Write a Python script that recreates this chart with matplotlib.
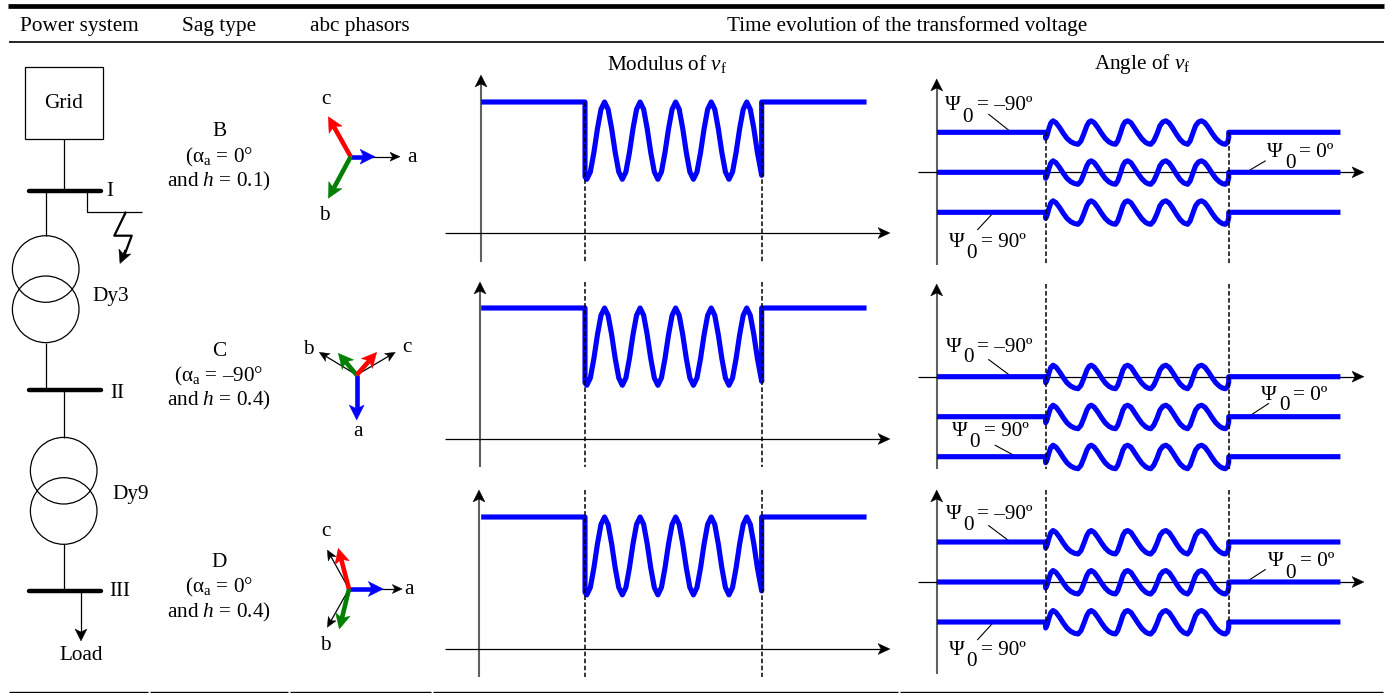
import matplotlib
matplotlib.use("Agg")
import matplotlib.pyplot as plt
from matplotlib.patches import Circle, Polygon, Rectangle

plt.rcParams['font.family'] = ['Liberation Serif', 'DejaVu Sans']
plt.rcParams['mathtext.fontset'] = 'custom'
plt.rcParams['mathtext.rm'] = 'Liberation Serif'
plt.rcParams['mathtext.it'] = 'Liberation Serif:italic'

# time is in sag cycles, the sag runs from t=0 to t=5
mod_t = [-2.92, 0.0, 0.0,
         0.05, 0.15, 0.25, 0.35, 0.45, 0.55, 0.65, 0.75, 0.85, 0.95,
         1.05, 1.15, 1.25, 1.35, 1.45, 1.55, 1.65, 1.75, 1.85, 1.95,
         2.05, 2.15, 2.25, 2.35, 2.45, 2.55, 2.65, 2.75, 2.85, 2.95,
         3.05, 3.15, 3.25, 3.35, 3.45, 3.55, 3.65, 3.75, 3.85, 3.95,
         4.05, 4.15, 4.25, 4.35, 4.45, 4.55, 4.65, 4.75, 4.85, 4.97,
         4.97, 7.92]
mod_val = [1.0, 1.0, 0.43,
           0.41, 0.466, 0.614, 0.796, 0.944, 1.0, 0.944, 0.796, 0.614, 0.466,
           0.41, 0.466, 0.614, 0.796, 0.944, 1.0, 0.944, 0.796, 0.614, 0.466,
           0.41, 0.466, 0.614, 0.796, 0.944, 1.0, 0.944, 0.796, 0.614, 0.466,
           0.41, 0.466, 0.614, 0.796, 0.944, 1.0, 0.944, 0.796, 0.614, 0.466,
           0.41, 0.466, 0.614, 0.796, 0.944, 1.0, 0.944, 0.796, 0.614, 0.44,
           1.0, 1.0]

angle_t = [-2.96, 0.0, 0.0, 0.04, 0.09, 0.14, 0.2, 0.28, 0.38, 0.48, 0.58, 0.68, 0.78, 0.88,
           0.96, 1.04, 1.12, 1.18, 1.24, 1.32, 1.42, 1.52, 1.62, 1.72, 1.82, 1.9,
           1.96, 2.03, 2.1, 2.16, 2.23, 2.32, 2.42, 2.52, 2.62, 2.72, 2.8, 2.86,
           2.94, 3.03, 3.11, 3.19, 3.27, 3.36, 3.46, 3.56, 3.66, 3.76, 3.86,
           3.93, 4.0, 4.08, 4.16, 4.24, 4.33, 4.43, 4.53, 4.63, 4.73, 4.82, 4.89,
           4.95, 4.98, 4.98, 8.02]
angle_dev = [0, 0, -4.5, -2, 3, 7, 8.6, 7.2, 3.5, -0.8, -4.6, -7, -8.4, -9,
             -6.5, -1, 5, 7.8, 8.6, 7.2, 3.5, -0.8, -4.6, -7.2, -8.6, -9,
             -6.5, -1, 5, 7.8, 8.6, 7.2, 3, -1.2, -5, -7.6, -8.7, -9,
             -6.5, -1, 5, 7.8, 8.6, 7, 3, -1.5, -5.5, -8, -9,
             -6.5, -1, 5, 7.8, 8.6, 7.2, 3.5, -0.8, -4.6, -7.2, -8.6, -9,
             -7.5, -4, 0, 0]

# pre-sag angle of each curve, per row (degrees, 0 is the time axis)
angle_levels = [[30, 0, -30], [0, -30, -60], [30, 0, -30]]

header_labels = ["Power system", "Sag type", "abc phasors", "Time evolution of the transformed voltage"]
sag_names = ["B", "C", "D"]
sag_alpha = ["0°", "–90°", "0°"]
sag_h = ["0.1", "0.4", "0.4"]

BLUE = '#0000ff'
GREEN = '#007f00'
RED = '#ff0000'
TXT = 15.3
WAVE_LW = 3.7

fig = plt.figure(figsize=(13.94, 6.93), dpi=100)
ax = fig.add_axes([0, 0, 1, 1])
ax.set_xlim(0, 1394)
ax.set_ylim(693, 0)
ax.axis('off')


def arrow(x0, y0, x1, y1, color='k', lw=1.0, head=11, width=5, z=3):
    dx, dy = x1 - x0, y1 - y0
    n = (dx ** 2 + dy ** 2) ** 0.5
    ux, uy = dx / n, dy / n
    bx, by = x1 - ux * head, y1 - uy * head
    nx, ny = bx + ux * head * 0.25, by + uy * head * 0.25
    ax.plot([x0, nx], [y0, ny], color=color, lw=lw, solid_capstyle='butt', zorder=z)
    ax.add_patch(Polygon([(x1, y1), (bx - uy * width, by + ux * width), (nx, ny),
                          (bx + uy * width, by - ux * width)], closed=True,
                         fc=color, ec=color, lw=0.3, zorder=z))


def line(xs, ys, lw=1.0, color='k', z=2, cap='butt'):
    ax.plot(xs, ys, color=color, lw=lw, solid_capstyle=cap, zorder=z)


def label(x, y, s, size=TXT, ha='center', z=6):
    # va center sits about 3 px above the x-height centre
    ax.text(x, y + 3, s, fontsize=size, ha=ha, va='center', zorder=z)


def panel(left, right, x0, px_t, y0, px_val, top, bottom):
    fx0, fx1 = left / 1394, right / 1394
    fy0, fy1 = 1 - bottom / 693, 1 - top / 693
    a = fig.add_axes([fx0, fy0, fx1 - fx0, fy1 - fy0])
    a.set_xlim((left - x0) / px_t, (right - x0) / px_t)
    a.set_ylim((y0 - bottom) / px_val, (y0 - top) / px_val)
    a.axis('off')
    a.patch.set_alpha(0)
    return a


def time_axes(x_axis, y_top, y_bot, y_axis, x_left, x_right):
    line([x_axis, x_axis], [y_bot, y_top + 8], lw=1.5, color='#606060')
    arrow(x_axis, y_top + 8, x_axis, y_top, lw=1.5, head=12, width=6)
    arrow(x_left, y_axis, x_right, y_axis, lw=0.9, color='k', head=12, width=5.5)


def psi(x, y, rest):
    label(x, y, "Ψ")
    label(x + 15, y + 11, "0")
    label(x + 24, y, rest, ha='left')


# table rules
line([8, 1384], [6.3, 6.3], lw=3.4)
line([9, 1384], [42, 42], lw=1.2)
for x0, x1 in [(9, 148), (150, 288), (290, 431), (433, 898), (900, 1383)]:
    line([x0, x1], [691.7, 691.7], lw=1.0)

for x, s in zip([79, 219, 360, 907], header_labels):
    label(x, 23, s)
label(667, 61, r"Modulus of $\mathit{v}_{\mathrm{f}}$")
label(1142, 61, r"Angle of $\mathit{v}_{\mathrm{f}}$")

# one line diagram
ax.add_patch(Rectangle((25.3, 67), 77.4, 72, fc='none', ec='k', lw=0.9))
label(63.7, 100, "Grid")
line([63.7, 63.7], [139, 190.7], lw=0.9)
line([45.7, 45.7], [190.7, 235.7], lw=0.9)
line([45.7, 45.7], [342.5, 390.3], lw=0.9)
line([63.7, 63.7], [390.3, 437.5], lw=0.9)
line([63.7, 63.7], [544, 591], lw=0.9)
for cx, cy in [(45.7, 269), (45.7, 309.3), (63.7, 470.7), (63.7, 511)]:
    ax.add_patch(Circle((cx, cy), 33.3, fc='none', ec='k', lw=0.9))
for y in [190.7, 390.3, 591]:
    line([28.5, 100.5], [y, y], lw=3.2, cap='round')
label(110, 188, "I")
label(117.3, 390, "II")
label(119.3, 588, "III")
label(111, 293, "Dy3")
label(130.7, 491, "Dy9")
line([86.7, 86.7, 141.7], [190.7, 211.7, 211.7], lw=0.9)
line([126, 114.3, 131.7, 124.5], [211.7, 235.7, 235.7, 255], lw=1.6)
arrow(125.5, 250, 120, 263.5, lw=1.6, head=13, width=6.5)
arrow(81, 591, 81, 641, lw=0.9, head=12, width=6)
label(81, 652, "Load")

# sag type column
for y, n, al, h in zip([129, 348, 559.7], sag_names, sag_alpha, sag_h):
    label(219, y, n)
    label(219, y + 25, "(α$_{\\mathrm{a}}$ = " + al)
    label(219, y + 49.5, "and $\\mathit{h}$ = " + h + ")")

# phasors
for x0, y0, tips in [
    (350.7, 156.7, [(400, 156.7, 'k'), (375, 156.7, BLUE), (328.3, 116.7, RED), (328.3, 198.3, GREEN)]),
    (356.7, 375, [(319.3, 352.3, 'k'), (395.3, 352.3, 'k'), (356.7, 420, BLUE), (338.3, 353.3, GREEN), (376.7, 352.3, RED)]),
    (349, 589, [(402.3, 589, 'k'), (327.3, 550, 'k'), (327.3, 627.3, 'k'), (383.3, 589, BLUE), (338.3, 548.3, RED), (339.3, 629, GREEN)]),
]:
    for x1, y1, c in tips:
        if c == 'k':
            arrow(x0, y0, x1, y1, lw=0.9, head=10, width=4.5)
        else:
            arrow(x0, y0, x1, y1, color=c, lw=3.3, head=15, width=7.5, z=4)
for x, y, s in [(412, 154, "a"), (326, 97, "c"), (324, 213, "b"),
                (357.7, 429, "a"), (308.3, 347, "b"), (407.3, 345, "c"),
                (409, 586, "a"), (326, 529, "c"), (325, 643, "b")]:
    label(x, y, s)

# modulus panels
mod_rows = [(102, 233, 481, 75, 262, 102), (308, 439, 480, 282, 467, 282), (517, 649, 479, 490, 677, 490)]
for level_y, axis_y, axis_x, top, bottom, dash_top in mod_rows:
    time_axes(axis_x, top, bottom, axis_y, 445, 890)
    p = panel(440, 900, 585, 35.55, axis_y, axis_y - level_y, top - 5, bottom + 5)
    p.plot(mod_t, mod_val, color=BLUE, lw=WAVE_LW, solid_joinstyle='round', solid_capstyle='butt')
    for t in [0.0, 4.98]:
        y_hi = (axis_y - dash_top) / (axis_y - level_y)
        y_lo = (axis_y - bottom) / (axis_y - level_y)
        p.plot([t, t], [y_hi, y_lo], color='k', lw=1.1, ls=(0, (3, 1.6)))

# angle panels
angle_rows = [(172.3, 79, 265, 132.3, 265), (376.7, 284, 469, 284, 469), (582, 490, 674, 490, 622)]
for levels, (axis_y, top, bottom, dash_top, dash_bot) in zip(angle_levels, angle_rows):
    time_axes(936.7, top, bottom, axis_y, 918, 1364)
    p = panel(910, 1375, 1045.7, 36.75, axis_y, 40 / 30, top - 5, bottom + 5)
    for lev in levels:
        p.plot(angle_t, [lev + d for d in angle_dev], color=BLUE, lw=WAVE_LW,
               solid_joinstyle='round', solid_capstyle='butt')
    for t in [0.0, 5.0]:
        y_hi = (axis_y - dash_top) * 30 / 40
        y_lo = (axis_y - dash_bot) * 30 / 40
        p.plot([t, t], [y_hi, y_lo], color='k', lw=1.1, ls=(0, (3, 1.6)))

for x, y, s, lx, ly in [
    (952.7, 103, "= –90º", (988.3, 1009.3), (114, 130.7)),
    (1275, 149.7, "= 0º", (1265.7, 1248.3), (160.7, 171)),
    (956.7, 239.7, "= 90º", (977.3, 994.3), (230, 211.7)),
    (953.3, 344, "= –90º", (988.3, 1009.3), (359.3, 375)),
    (1269, 392, "= 0º", (1269, 1251), (403.3, 415)),
    (960, 428.7, "= 90º", (994.7, 1013.3), (445, 455)),
    (953.3, 511.3, "= –90º", (988.3, 1010), (525.3, 541.7)),
    (1276, 559, "= 0º", (1265.7, 1247.7), (569.3, 581)),
    (956.7, 647.3, "= 90º", (977.3, 994), (640, 621.7)),
]:
    psi(x, y, s)
    line(lx, ly, lw=0.8)

fig.savefig("out.png", dpi=100)
